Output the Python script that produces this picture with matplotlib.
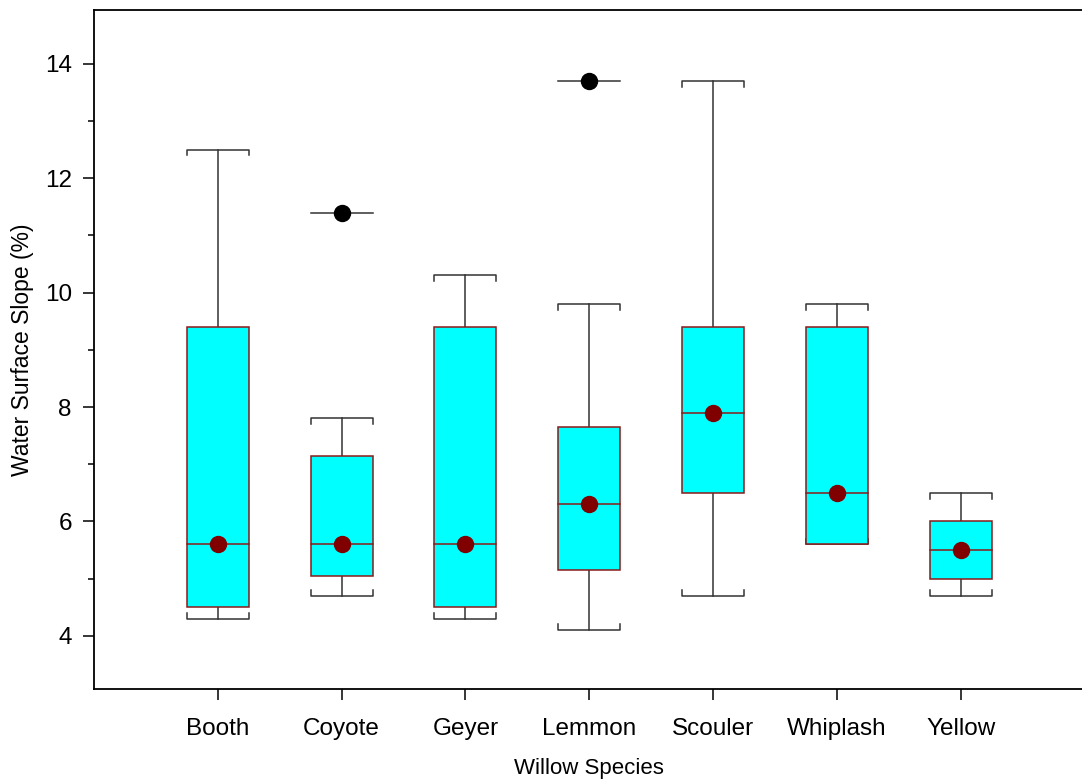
"""
Water surface slope by willow species, drawn as box plots.
Boxes span the 25th-75th percentiles, whiskers the 10th-90th,
with the median line, the mean as a dot and outliers in black.
"""

import matplotlib
matplotlib.use("Agg")
import matplotlib.pyplot as plt
from matplotlib.ticker import MultipleLocator

species = ["Booth", "Coyote", "Geyer", "Lemmon", "Scouler", "Whiplash", "Yellow"]
whisker_low = [4.3, 4.7, 4.3, 4.1, 4.7, 5.6, 4.7]
q1 = [4.5, 5.05, 4.5, 5.15, 6.5, 5.6, 5.0]
medians = [5.6, 5.6, 5.6, 6.3, 7.9, 6.5, 5.5]
q3 = [9.4, 7.15, 9.4, 7.65, 9.4, 9.4, 6.0]
whisker_high = [12.5, 7.8, 10.3, 9.8, 13.7, 9.8, 6.5]
means = [5.6, 5.6, 5.6, 6.3, 7.9, 6.5, 5.5]
outlier_species = ["Coyote", "Lemmon"]
outlier_values = [11.4, 13.7]

box_color = "#00ffff"
edge_color = "#8b1a1a"
mean_color = "#800000"
whisker_color = "#333333"


def draw_cap(ax, x, y, half_width, hook):
    """
    Draw a whisker cap with small hooks at both ends.
    Args:
        ax: Axes to draw on.
        x: Float. Box centre.
        y: Float. Whisker end value.
        half_width: Float. Half of the cap width.
        hook: Float. Signed hook length in data units (points back towards the box).
    """
    ax.plot([x - half_width, x - half_width, x + half_width, x + half_width],
            [y + hook, y, y, y + hook], color=whisker_color, lw=1.1, zorder=2)


def draw_boxes(ax, width=0.5):
    """
    Draw one box per species from the percentile lists.
    """
    hw = width / 2
    for i, name in enumerate(species):
        x = i + 1
        # whiskers
        ax.plot([x, x], [q3[i], whisker_high[i]], color=whisker_color, lw=1.1, zorder=1)
        ax.plot([x, x], [whisker_low[i], q1[i]], color=whisker_color, lw=1.1, zorder=1)
        draw_cap(ax, x, whisker_high[i], hw, -0.1)
        # box
        rect = plt.Rectangle((x - hw, q1[i]), width, q3[i] - q1[i],
                             facecolor=box_color, edgecolor=edge_color, lw=1.1, zorder=3)
        ax.add_patch(rect)
        draw_cap(ax, x, whisker_low[i], hw, 0.1)
        # median line and mean dot
        ax.plot([x - hw, x + hw], [medians[i], medians[i]], color=edge_color, lw=1.1, zorder=4)
        ax.plot(x, means[i], "o", color=mean_color, ms=11.5, zorder=5)

    for name, val in zip(outlier_species, outlier_values):
        x = species.index(name) + 1
        ax.plot([x - hw, x + hw], [val, val], color=whisker_color, lw=1.1, zorder=2)
        ax.plot(x, val, "o", color="black", ms=11.5, zorder=5)


if __name__ == "__main__":
    plt.rcParams["font.family"] = ["Liberation Sans", "DejaVu Sans"]

    fig = plt.figure(figsize=(10.82, 7.82), dpi=100)
    ax = fig.add_axes([0.0869, 0.1189, 0.9153, 0.8683])

    draw_boxes(ax)

    ax.set_xlim(0, 8)
    ax.set_ylim(3.07, 14.94)
    ax.set_xticks(range(1, len(species) + 1))
    ax.set_xticklabels(species)
    ax.yaxis.set_major_locator(MultipleLocator(2))
    ax.yaxis.set_minor_locator(MultipleLocator(1))
    ax.tick_params(axis="both", which="major", direction="out", length=8,
                   width=1.1, labelsize=17.5, pad=8)
    ax.tick_params(axis="y", which="minor", direction="out", length=4.5, width=1.1)
    ax.tick_params(axis="x", pad=13)
    ax.spines["right"].set_visible(False)
    for side in ["left", "bottom", "top"]:
        ax.spines[side].set_linewidth(1.3)

    ax.set_ylabel("Water Surface Slope (%)", fontsize=16.5, labelpad=8)
    ax.set_xlabel("Willow Species", fontsize=16, labelpad=13)

    fig.savefig("out.png", dpi=100)
